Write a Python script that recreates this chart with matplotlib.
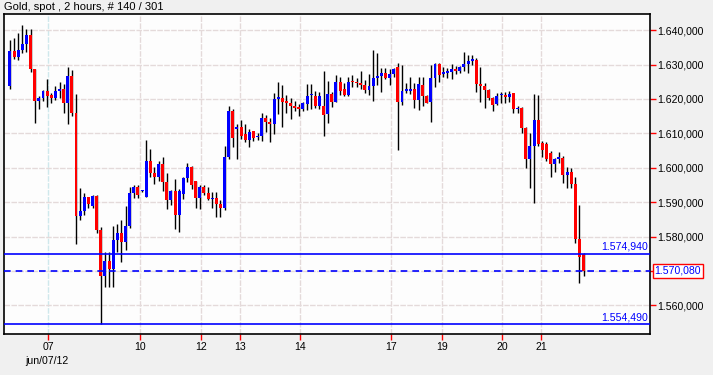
import matplotlib
matplotlib.use("Agg")
import matplotlib.pyplot as plt
from matplotlib.patches import Rectangle

plt.rcParams['font.family'] = ['Liberation Sans', 'DejaVu Sans']
plt.rcParams['hatch.color'] = '#eeeeee'
plt.rcParams['hatch.linewidth'] = 0.6

# 2-hour gold candles, 140 bars (prices in thousands, shown as 1.xxx,000)
opens = [
    1623.8, 1633.9, 1632.3, 1634.2, 1636.0, 1638.6, 1628.7, 1619.5, 1620.4, 1622.3,
    1621.1, 1620.4, 1622.3, 1622.9, 1618.9, 1626.7, 1616.0, 1586.0, 1587.4, 1591.4,
    1588.9, 1591.8, 1581.9, 1568.5, 1573.0, 1570.7, 1579.0, 1581.1, 1578.5, 1583.0,
    1592.7, 1594.5, 1593.1, 1591.6, 1602.0, 1598.5, 1597.2, 1601.1, 1595.9, 1590.6,
    1593.3, 1586.2, 1592.3, 1596.9, 1600.1, 1596.2, 1591.3, 1594.3, 1592.7, 1590.8,
    1591.1, 1589.4, 1588.4, 1603.0, 1616.5, 1611.2, 1611.7, 1609.8, 1608.1, 1610.7,
    1608.8, 1609.2, 1614.5, 1613.4, 1612.7, 1620.0, 1620.2, 1619.2, 1618.9, 1617.9,
    1617.4, 1617.2, 1618.5, 1621.0, 1620.8, 1617.9, 1618.0, 1615.6, 1621.4, 1619.2,
    1625.0, 1622.8, 1621.1, 1625.0, 1625.0, 1624.7, 1624.0, 1622.6, 1623.8, 1626.2,
    1626.7, 1627.6, 1626.2, 1627.2, 1629.4, 1619.0, 1622.4, 1622.4, 1622.9, 1619.7,
    1624.0, 1620.8, 1619.0, 1626.2, 1630.1, 1627.2, 1627.4, 1627.9, 1628.7, 1628.1,
    1629.4, 1630.1, 1631.0, 1631.3, 1624.0, 1623.8, 1622.6, 1620.3, 1618.5, 1621.0,
    1621.1, 1620.5, 1621.6, 1617.0, 1617.4, 1611.6, 1602.5, 1606.3, 1613.9, 1607.1,
    1606.9, 1604.4, 1601.0, 1602.6, 1602.8, 1597.9, 1598.7, 1595.3, 1579.3, 1574.9,
]
highs = [
    1637.1, 1637.6, 1639.2, 1641.5, 1640.2, 1640.2, 1628.7, 1620.9, 1622.6, 1625.7,
    1621.8, 1623.7, 1625.0, 1624.3, 1629.4, 1628.4, 1621.4, 1594.0, 1592.7, 1591.6,
    1592.1, 1592.1, 1582.8, 1575.4, 1575.6, 1583.0, 1583.5, 1584.8, 1589.0, 1594.5,
    1595.0, 1595.0, 1593.5, 1608.1, 1605.4, 1600.3, 1602.0, 1603.0, 1598.4, 1593.5,
    1596.6, 1593.7, 1597.4, 1601.3, 1600.6, 1596.2, 1595.0, 1595.0, 1594.3, 1592.9,
    1592.9, 1590.6, 1606.3, 1618.0, 1617.1, 1612.6, 1613.9, 1612.7, 1611.2, 1610.7,
    1610.0, 1616.0, 1615.3, 1614.5, 1621.8, 1624.8, 1624.0, 1621.1, 1620.2, 1619.5,
    1618.5, 1619.0, 1624.2, 1624.2, 1622.3, 1621.9, 1628.1, 1625.3, 1622.1, 1626.9,
    1626.5, 1624.5, 1626.3, 1626.9, 1626.0, 1628.2, 1625.5, 1627.2, 1634.2, 1633.4,
    1628.9, 1629.1, 1628.6, 1629.0, 1630.3, 1629.9, 1624.7, 1626.3, 1624.7, 1626.3,
    1626.5, 1621.1, 1629.9, 1630.3, 1630.5, 1629.2, 1629.1, 1630.1, 1629.6, 1629.6,
    1633.5, 1632.8, 1632.8, 1632.0, 1629.4, 1624.5, 1622.9, 1620.5, 1621.6, 1621.9,
    1622.1, 1622.4, 1621.8, 1617.9, 1617.7, 1611.9, 1610.2, 1621.4, 1621.1, 1607.9,
    1607.6, 1604.9, 1602.9, 1604.6, 1603.4, 1600.3, 1599.8, 1597.4, 1589.2, 1575.1,
]
lows = [
    1622.9, 1631.6, 1631.4, 1633.3, 1633.7, 1627.9, 1613.1, 1617.0, 1619.4, 1617.7,
    1618.9, 1619.7, 1620.2, 1615.8, 1612.6, 1615.1, 1577.8, 1584.8, 1586.2, 1588.2,
    1588.2, 1580.9, 1554.5, 1565.4, 1565.4, 1565.4, 1575.6, 1572.7, 1576.1, 1582.4,
    1591.2, 1591.2, 1592.8, 1591.4, 1597.4, 1595.3, 1596.2, 1593.3, 1587.9, 1589.2,
    1582.2, 1581.4, 1590.9, 1595.9, 1593.7, 1588.2, 1588.0, 1592.1, 1590.6, 1588.4,
    1585.6, 1585.6, 1587.7, 1602.5, 1605.9, 1602.5, 1608.3, 1607.6, 1606.1, 1607.9,
    1608.1, 1607.9, 1610.5, 1607.6, 1609.8, 1615.6, 1611.7, 1615.8, 1614.2, 1616.6,
    1615.1, 1616.6, 1616.8, 1617.0, 1617.4, 1617.0, 1609.3, 1612.9, 1617.7, 1619.0,
    1621.1, 1620.8, 1620.8, 1623.5, 1623.4, 1622.8, 1621.6, 1621.1, 1619.5, 1624.0,
    1622.1, 1625.7, 1624.0, 1626.5, 1605.1, 1618.2, 1621.6, 1621.4, 1617.4, 1616.8,
    1617.9, 1618.7, 1613.4, 1623.5, 1625.0, 1626.3, 1626.2, 1625.8, 1627.2, 1627.4,
    1628.2, 1627.4, 1629.9, 1622.1, 1619.2, 1617.4, 1619.7, 1616.6, 1618.2, 1618.8,
    1618.9, 1619.2, 1615.8, 1615.8, 1610.0, 1600.0, 1594.2, 1589.8, 1606.4, 1603.2,
    1601.9, 1597.4, 1598.8, 1601.3, 1595.5, 1594.2, 1594.0, 1578.0, 1566.6, 1568.5,
]
closes = [
    1633.9, 1632.3, 1634.2, 1636.0, 1638.6, 1628.7, 1619.5, 1620.4, 1622.3, 1620.9,
    1620.4, 1622.3, 1622.9, 1618.9, 1626.7, 1616.0, 1586.0, 1587.4, 1591.4, 1589.4,
    1591.8, 1581.9, 1568.5, 1573.0, 1570.7, 1579.0, 1581.1, 1578.4, 1583.0, 1592.7,
    1594.5, 1592.1, 1593.3, 1602.0, 1598.5, 1597.2, 1601.1, 1595.9, 1590.6, 1593.3,
    1586.2, 1593.3, 1596.9, 1600.1, 1595.0, 1591.3, 1594.3, 1592.7, 1590.8, 1591.1,
    1589.4, 1588.4, 1603.0, 1616.5, 1608.5, 1611.9, 1609.3, 1608.1, 1610.5, 1608.7,
    1609.2, 1614.5, 1613.4, 1612.7, 1620.0, 1620.2, 1619.2, 1618.9, 1618.0, 1617.4,
    1617.2, 1618.7, 1620.8, 1621.2, 1618.0, 1620.8, 1615.3, 1621.4, 1619.2, 1625.0,
    1622.4, 1621.1, 1625.0, 1624.8, 1624.5, 1624.0, 1622.6, 1623.8, 1626.2, 1626.4,
    1627.6, 1626.2, 1627.2, 1628.7, 1619.0, 1622.4, 1622.6, 1622.9, 1619.7, 1624.3,
    1620.8, 1618.9, 1626.0, 1630.1, 1626.9, 1627.9, 1628.2, 1628.7, 1628.1, 1629.4,
    1630.1, 1631.0, 1631.3, 1624.3, 1623.8, 1622.6, 1620.3, 1618.2, 1620.8, 1621.2,
    1620.5, 1621.4, 1617.0, 1617.3, 1611.6, 1602.5, 1606.3, 1613.9, 1606.8, 1605.1,
    1602.5, 1601.0, 1602.5, 1602.8, 1597.9, 1598.7, 1595.3, 1579.3, 1574.1, 1570.08,
]

day_ticks = [9.3, 31.6, 46.3, 55.8, 70.3, 92.4, 104.7, 119.2, 128.7]
day_labels = ['07', '10', '12', '13', '14', '17', '19', '20', '21']
price_ticks = [1560, 1570, 1580, 1590, 1600, 1610, 1620, 1630, 1640]
# the 1.570,000 label sits under the last-price box, so it is left blank
price_labels = ['1.560,000', '', '1.580,000', '1.590,000', '1.600,000',
                '1.610,000', '1.620,000', '1.630,000', '1.640,000']
resist_level = 1574.94
support_level = 1554.49
last_price = 1570.08

fig = plt.figure(figsize=(7.13, 3.75), dpi=100, facecolor='#f0f0f0')
ax = fig.add_axes([4 / 713, 41 / 375, 646 / 713, 320 / 375])
ax.set_facecolor('white')
ax.add_patch(Rectangle((0, 0), 1, 1, transform=ax.transAxes, facecolor='#fdfdfd',
                       edgecolor='none', hatch='////', zorder=0))

xs = list(range(len(opens)))
up = [c >= o for o, c in zip(opens, closes)]
ax.vlines(xs, lows, highs, color='black', linewidth=1.0, zorder=3)
bottoms = [min(o, c) for o, c in zip(opens, closes)]
heights = [max(abs(c - o), 0.5) for o, c in zip(opens, closes)]
cols = ['#0000ff' if u else '#ff0000' for u in up]
ax.bar(xs, heights, bottom=bottoms, width=0.72, color=cols, linewidth=0, zorder=4)

# reference levels
ax.axhline(resist_level, color='#0000ff', linewidth=1.2, zorder=5)
ax.axhline(support_level, color='#0000ff', linewidth=1.2, zorder=5)
ax.axhline(last_price, color='#0000ff', linewidth=1.2, linestyle=(0, (4, 3)), zorder=5)
ax.text(0.997, resist_level + 0.6, '1.574,940', transform=ax.get_yaxis_transform(),
        ha='right', va='bottom', color='#0000ff', fontsize=7.6)
ax.text(0.997, support_level + 0.6, '1.554,490', transform=ax.get_yaxis_transform(),
        ha='right', va='bottom', color='#0000ff', fontsize=7.6)
ax.text(1.007, last_price, '1.570,080', transform=ax.get_yaxis_transform(),
        ha='left', va='center', color='#0000ff', fontsize=7.6, zorder=10,
        bbox=dict(boxstyle='square,pad=0.18', facecolor='white', edgecolor='#ff0000',
                  linewidth=1.0), clip_on=False)

ax.set_xlim(-1.45, 155.1)
ax.set_ylim(1551.66, 1644.68)

ax.set_xticks(day_ticks)
ax.set_xticklabels(day_labels)
ax.set_yticks(price_ticks)
ax.set_yticklabels(price_labels)
ax.yaxis.tick_right()
ax.tick_params(axis='both', colors='#ff0000', labelcolor='black', labelsize=7.6,
               length=4, width=1, direction='out')
ax.tick_params(axis='y', pad=1)
ax.tick_params(axis='x', pad=2)

ax.grid(True, color='#e4dada', linewidth=1.0, linestyle=(0, (4, 1)), zorder=1)
ax.set_axisbelow(True)
ax.xaxis.get_gridlines()[0].set_color('#cfe8ec')

for sp in ax.spines.values():
    sp.set_color('black')
    sp.set_linewidth(1.2)

fig.text(4 / 713, 1 - 7 / 375, 'Gold, spot , 2 hours, # 140 / 301', ha='left',
         va='center', fontsize=8, color='black')
fig.text(47 / 713, 1 - 361 / 375, 'jun/07/12', ha='center', va='center',
         fontsize=7.6, color='black')

fig.savefig('out.png', dpi=100, facecolor=fig.get_facecolor())
